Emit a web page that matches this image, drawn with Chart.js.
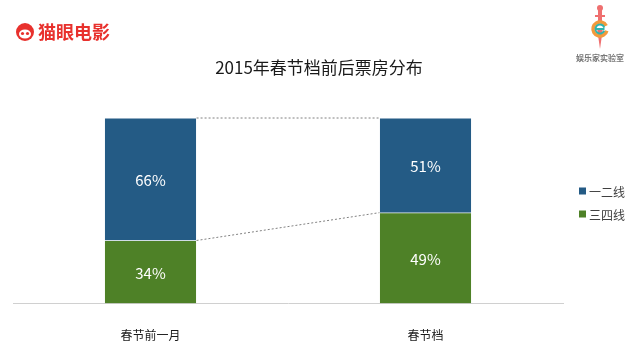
<!DOCTYPE html>
<html><head><meta charset="utf-8">
<script src="https://cdn.jsdelivr.net/npm/chart.js@4"></script>
<style>
html,body{margin:0;padding:0;background:#fff;}
#wrap{position:relative;width:638px;height:341px;}
canvas{display:block;}
</style></head>
<body><div id="wrap"><canvas id="c" width="638" height="341"></canvas></div>
<script>
const categories = ['春节前一月', '春节档'];
const seriesNames = ['三四线', '一二线'];
const lowerTier = [34, 49];   // 三四线
const upperTier = [66, 51];   // 一二线
const titleText = '2015年春节档前后票房分布';
const legendOrder = ['一二线', '三四线'];

const BLUE = '#245b85', GREEN = '#4e8127';
const FONT = '"Microsoft YaHei","Noto Sans CJK SC","Noto Sans",sans-serif';

const decor = {
  id: 'decor',
  afterDatasetsDraw(chart) {
    const ctx = chart.ctx;
    const m0 = chart.getDatasetMeta(0), m1 = chart.getDatasetMeta(1);
    ctx.save();
    ctx.strokeStyle = '#808080'; ctx.lineWidth = 1; ctx.setLineDash([2, 2]);
    for (let i = 0; i < categories.length - 1; i++) {
      const a0 = m0.data[i], b0 = m0.data[i + 1], a1 = m1.data[i], b1 = m1.data[i + 1];
      const ar = a0.x + a0.width / 2, bl = b0.x - b0.width / 2;
      ctx.beginPath(); ctx.moveTo(ar, a0.y); ctx.lineTo(bl, b0.y); ctx.stroke();
      ctx.beginPath(); ctx.moveTo(ar, a1.y); ctx.lineTo(bl, b1.y); ctx.stroke();
    }
    ctx.restore();
    ctx.save();
    ctx.fillStyle = '#ffffff'; ctx.font = '15px ' + FONT;
    ctx.textAlign = 'center'; ctx.textBaseline = 'middle';
    [m0, m1].forEach((m, di) => {
      const vals = chart.data.datasets[di].data;
      m.data.forEach((el, i) => {
        const mid = (el.y + el.base) / 2;
        ctx.fillText(vals[i] + '%', el.x, mid + 1);
      });
    });
    ctx.restore();
  },
  afterDraw(chart) {
    const ctx = chart.ctx;
    ctx.save();
    ctx.fillStyle = '#1a1a1a'; ctx.font = '17px ' + FONT;
    ctx.textAlign = 'center'; ctx.textBaseline = 'middle';
    ctx.fillText(titleText, 319, 68);
    ctx.font = '12px ' + FONT; ctx.textAlign = 'left';
    legendOrder.forEach((name, k) => {
      const di = chart.data.datasets.findIndex(d => d.label === name);
      const y = 191 + k * 23;
      ctx.fillStyle = chart.data.datasets[di].backgroundColor;
      ctx.fillRect(579, y - 3.5, 7, 7);
      ctx.fillStyle = '#404040';
      ctx.fillText(name, 589, y + 1);
    });
    ctx.fillStyle = '#e8312d';
    ctx.beginPath(); ctx.arc(25, 32, 9, 0, Math.PI * 2); ctx.fill();
    ctx.fillStyle = '#fff';
    ctx.beginPath(); ctx.ellipse(25, 34, 6, 4.5, 0, 0, Math.PI * 2); ctx.fill();
    ctx.fillStyle = '#e8312d';
    ctx.beginPath(); ctx.arc(22.5, 33.5, 1.6, 0, Math.PI * 2); ctx.fill();
    ctx.beginPath(); ctx.arc(27.5, 33.5, 1.6, 0, Math.PI * 2); ctx.fill();
    ctx.font = 'bold 18px ' + FONT; ctx.textBaseline = 'middle';
    ctx.fillText('猫眼电影', 38, 32);
    // right logo
    ctx.fillStyle = '#ef6f6f';
    ctx.beginPath(); ctx.moveTo(597, 28); ctx.lineTo(603, 28); ctx.lineTo(600, 49); ctx.closePath(); ctx.fill();
    ctx.beginPath(); ctx.arc(600, 8, 3, 0, Math.PI * 2); ctx.fill();
    ctx.fillRect(598, 8, 4, 14);
    ctx.fillRect(595, 15, 10, 2);
    ctx.lineWidth = 3.5; ctx.strokeStyle = '#f29a3c';
    ctx.beginPath(); ctx.arc(600, 29, 7, 0.25, Math.PI * 1.85); ctx.stroke();
    ctx.lineWidth = 2; ctx.strokeStyle = '#2fb3ad';
    ctx.beginPath(); ctx.arc(600, 29, 4.5, 0.35, Math.PI * 1.9); ctx.stroke();
    ctx.beginPath(); ctx.moveTo(595.5, 29); ctx.lineTo(604.5, 29); ctx.stroke();
    ctx.fillStyle = '#777'; ctx.font = 'bold 8px ' + FONT; ctx.textAlign = 'center';
    ctx.fillText('娱乐家实验室', 600, 58);
    ctx.restore();
  }
};

new Chart(document.getElementById('c'), {
  type: 'bar',
  data: {
    labels: categories,
    datasets: [
      { label: seriesNames[0], data: lowerTier, backgroundColor: GREEN, borderColor: 'rgba(255,255,255,0.6)', borderWidth: 0.5 },
      { label: seriesNames[1], data: upperTier, backgroundColor: BLUE, borderColor: 'rgba(255,255,255,0.6)', borderWidth: 0.5 }
    ]
  },
  options: {
    responsive: false,
    animation: false,
    layout: { padding: { left: 13, right: 75, top: 118, bottom: -27 } },
    plugins: { legend: { display: false }, title: { display: false }, tooltip: { enabled: false } },
    datasets: { bar: { categoryPercentage: 1, barPercentage: 0.335 } },
    scales: {
      x: {
        stacked: true,
        grid: { display: false, drawTicks: false },
        border: { display: true, color: '#d0d0d0', width: 1 },
        ticks: { color: '#1a1a1a', font: { size: 12, family: FONT }, padding: 25 }
      },
      y: { stacked: true, display: false, min: 0, max: 100 }
    }
  },
  plugins: [decor]
});
</script></body></html>
